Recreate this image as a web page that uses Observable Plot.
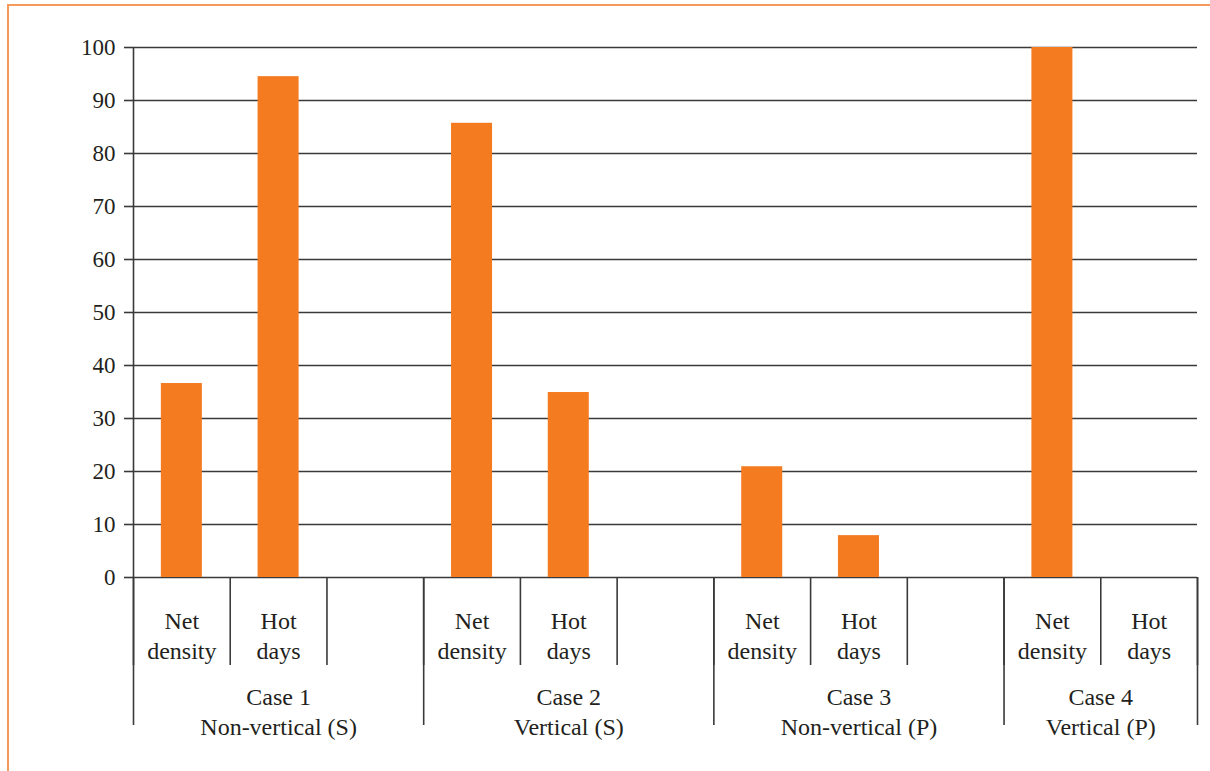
<!DOCTYPE html>
<html>
<head>
<meta charset="utf-8">
<script src="https://cdn.jsdelivr.net/npm/d3@7"></script>
<script src="https://cdn.jsdelivr.net/npm/@observablehq/plot@0.6"></script>
<style>
  html, body { margin: 0; padding: 0; background: #fff; }
  #wrap { position: relative; width: 1210px; height: 771px; overflow: hidden; }
  #frame { position: absolute; left: 7px; top: 4px; right: -4px; bottom: -4px;
           border-top: 2px solid #f59a5a; border-left: 2px solid #f59a5a; pointer-events: none; }
  #chart { position: absolute; left: 0; top: 0; }
</style>
</head>
<body>
<div id="wrap"><div id="frame"></div><div id="chart"></div></div>
<script>
// Scenario groups and the two measures compared in each
const cases = ["Case 1\nNon-vertical (S)", "Case 2\nVertical (S)", "Case 3\nNon-vertical (P)", "Case 4\nVertical (P)"];
const measures = ["Net\ndensity", "Hot\ndays"];
const netDensity = [36.6, 85.7, 20.9, 100];
const hotDays = [94.5, 34.9, 7.9, 0];
const yTicks = [0, 10, 20, 30, 40, 50, 60, 70, 80, 90, 100];

// Each case occupies three slots (two measures plus a spacer); the last case has no spacer
const slotsPerCase = 3;
const slotCount = cases.length * slotsPerCase - 1;
const barFraction = 0.424;

const bars = [];
cases.forEach((c, i) => {
  [netDensity[i], hotDays[i]].forEach((v, j) => {
    bars.push({slot: i * slotsPerCase + j, measure: measures[j], value: v});
  });
});
const caseSpans = cases.map((c, i) => ({
  label: c,
  start: i * slotsPerCase,
  end: Math.min(i * slotsPerCase + slotsPerCase, slotCount)
}));
const slotEdges = d3.range(0, slotCount + 1);
const caseEdges = [...caseSpans.map(d => d.start), slotCount];

const ink = "#231f20";
const lineColor = "#3a3a3a";
const labelSize = 24;

const chart = Plot.plot({
  width: 1210,
  height: 771,
  marginTop: 47,
  marginBottom: 194,
  marginLeft: 133,
  marginRight: 13,
  style: {fontFamily: "'Liberation Serif', 'Times New Roman', serif", fontSize: "23px", color: ink, background: "transparent"},
  x: {domain: [0, slotCount], axis: null},
  y: {domain: [0, 100], axis: null},
  marks: [
    Plot.ruleY(yTicks, {stroke: lineColor, strokeWidth: 1.6, strokeOpacity: 1}),
    Plot.axisY({ticks: yTicks, tickSize: 9, tickPadding: 9, stroke: lineColor, strokeWidth: 1.6, strokeOpacity: 1, fill: ink, fontSize: 23, label: null}),
    Plot.rectY(bars, {
      x1: d => d.slot + (1 - barFraction) / 2,
      x2: d => d.slot + (1 + barFraction) / 2,
      y: "value",
      fill: "#f47b20"
    }),
    Plot.ruleX([0], {stroke: lineColor, strokeWidth: 1.6}),
    // separators under the axis: short between measures, long between cases
    Plot.axisX(slotEdges, {tickSize: 88, tickFormat: () => "", stroke: lineColor, strokeWidth: 1.6, strokeOpacity: 1, label: null}),
    Plot.axisX(caseEdges, {tickSize: 148, tickFormat: () => "", stroke: lineColor, strokeWidth: 1.6, strokeOpacity: 1, label: null}),
    Plot.text(bars, {
      x: d => d.slot + 0.5,
      text: "measure",
      frameAnchor: "bottom",
      lineAnchor: "middle",
      dy: 57,
      lineHeight: 1.25,
      fontSize: labelSize,
      fill: ink
    }),
    Plot.text(caseSpans, {
      x: d => (d.start + d.end) / 2,
      text: "label",
      frameAnchor: "bottom",
      lineAnchor: "middle",
      dy: 133,
      lineHeight: 1.25,
      fontSize: labelSize,
      fill: ink
    })
  ]
});
document.getElementById("chart").appendChild(chart);
</script>
</body>
</html>
